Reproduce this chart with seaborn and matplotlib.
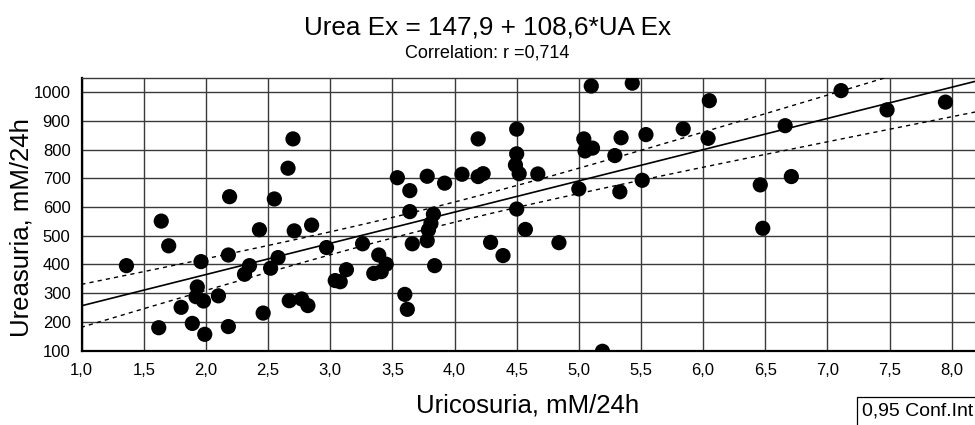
import numpy as np
import pandas as pd
import seaborn as sns
import matplotlib
matplotlib.use("Agg")
import matplotlib.pyplot as plt
from matplotlib.patches import Rectangle
from matplotlib.ticker import FixedLocator, FuncFormatter

# Uric acid excretion (x) and urea excretion (y), mM/24h
uricosuria = [
    1.36, 1.64, 1.70, 1.62, 1.80, 1.89, 1.93, 1.92, 1.98, 1.99,
    1.96, 2.10, 2.18, 2.19, 2.18, 2.31, 2.35, 2.43, 2.46, 2.52,
    2.55, 2.58, 2.66, 2.70, 2.71, 2.67, 2.77, 2.82, 2.85, 2.97,
    3.04, 3.08, 3.13, 3.26, 3.35, 3.39, 3.41, 3.45, 3.54, 3.60,
    3.62, 3.64, 3.64, 3.66, 3.78, 3.78, 3.79, 3.81, 3.83, 3.84,
    3.92, 4.06, 4.19, 4.19, 4.23, 4.29, 4.39, 4.50, 4.50, 4.49,
    4.52, 4.50, 4.57, 4.67, 4.84, 5.00, 5.04, 5.05, 5.11, 5.10,
    5.19, 5.29, 5.33, 5.34, 5.43, 5.51, 5.54, 5.84, 6.04, 6.05,
    6.46, 6.48, 6.66, 6.71, 7.11, 7.48, 7.95,
]
urea_ex = [
    396, 551, 465, 180, 251, 195, 322, 288, 273, 157,
    410, 291, 433, 636, 184, 366, 396, 521, 231, 387,
    628, 424, 735, 837, 517, 274, 280, 257, 537, 459,
    344, 340, 382, 472, 369, 433, 375, 401, 702, 296,
    244, 657, 584, 472, 707, 483, 520, 543, 575, 396,
    683, 714, 837, 706, 716, 477, 431, 871, 785, 746,
    716, 593, 522, 715, 476, 663, 837, 795, 805, 1021,
    98, 779, 653, 841, 1031, 693, 852, 872, 839, 970,
    677, 526, 883, 706, 1005, 938, 965,
]

intercept = 147.9
slope = 108.6
r_value = 0.714

x_ticks = [1.0, 1.5, 2.0, 2.5, 3.0, 3.5, 4.0, 4.5, 5.0, 5.5, 6.0, 6.5, 7.0, 7.5, 8.0]
y_ticks = [100, 200, 300, 400, 500, 600, 700, 800, 900, 1000]

df = pd.DataFrame({"UA Ex": uricosuria, "Urea Ex": urea_ex})

sns.set_theme(style="white")
plt.rcParams["font.family"] = ["Liberation Sans", "DejaVu Sans"]

fig = plt.figure(figsize=(9.75, 4.25), dpi=100)
ax = fig.add_axes([0.0838, 0.1748, 0.956, 0.6424])

# 95% confidence band of the fitted line
xa = np.asarray(uricosuria, float)
ya = np.asarray(urea_ex, float)
n = len(xa)
resid = ya - (intercept + slope * xa)
s_err = np.sqrt(np.sum(resid ** 2) / (n - 2))
sxx = np.sum((xa - xa.mean()) ** 2)
t_crit = 1.988
xs = np.linspace(0.8, 8.8, 200)
fit = intercept + slope * xs
half = t_crit * s_err * np.sqrt(1.0 / n + (xs - xa.mean()) ** 2 / sxx)

ax.plot(xs, fit, color="black", lw=1.2, zorder=3)
ax.plot(xs, fit + half, color="black", lw=1.0, ls=(0, (3, 3)), zorder=3)
ax.plot(xs, fit - half, color="black", lw=1.0, ls=(0, (3, 3)), zorder=3)

sns.scatterplot(data=df, x="UA Ex", y="Urea Ex", ax=ax, s=120, color="black",
                edgecolor="none", zorder=4, clip_on=True)

ax.set_xlim(1.0, 8.5)
ax.set_ylim(100, 1050)
ax.xaxis.set_major_locator(FixedLocator(x_ticks))
ax.yaxis.set_major_locator(FixedLocator(y_ticks))
ax.xaxis.set_major_formatter(FuncFormatter(lambda v, p: f"{v:.1f}".replace(".", ",")))
ax.yaxis.set_major_formatter(FuncFormatter(lambda v, p: f"{v:.0f}"))
ax.grid(True, color="#3a3a3a", lw=1.0)
ax.set_axisbelow(True)
ax.tick_params(axis="both", length=0, labelsize=12, colors="black")
ax.tick_params(axis="y", pad=8)
ax.tick_params(axis="x", pad=9)
for side in ("left", "bottom"):
    ax.spines[side].set_color("black")
    ax.spines[side].set_linewidth(1.6)
ax.spines["top"].set_color("#3a3a3a")
ax.spines["top"].set_linewidth(1.0)
ax.spines["right"].set_visible(False)

ax.set_xlabel("")
ax.set_ylabel("")
fig.text(528 / 975, 1 - 406 / 425, "Uricosuria, mM/24h", ha="center", va="center",
         fontsize=18.5, color="black")
fig.text(22 / 975, 1 - 228 / 425, "Ureasuria, mM/24h", ha="center", va="center",
         rotation=90, fontsize=18.5, color="black")

fig.text(0.5, 0.935, "Urea Ex = 147,9 + 108,6*UA Ex", ha="center", va="center",
         fontsize=18.8, color="black")
fig.text(0.5, 0.875, f"Correlation: r ={r_value:.3f}".replace(".", ","), ha="center",
         va="center", fontsize=13, color="black")

# legend frame running off the lower right corner
fig.patches.append(Rectangle((857 / 975, -0.05), 0.2, 0.05 + (425 - 397) / 425,
                             transform=fig.transFigure, facecolor="white",
                             edgecolor="black", lw=0.9, zorder=5))
fig.text(862 / 975, 1 - 411 / 425, "0,95 Conf.Int", ha="left", va="center",
         fontsize=14, color="black", zorder=6)

fig.savefig("out.png", dpi=100)
